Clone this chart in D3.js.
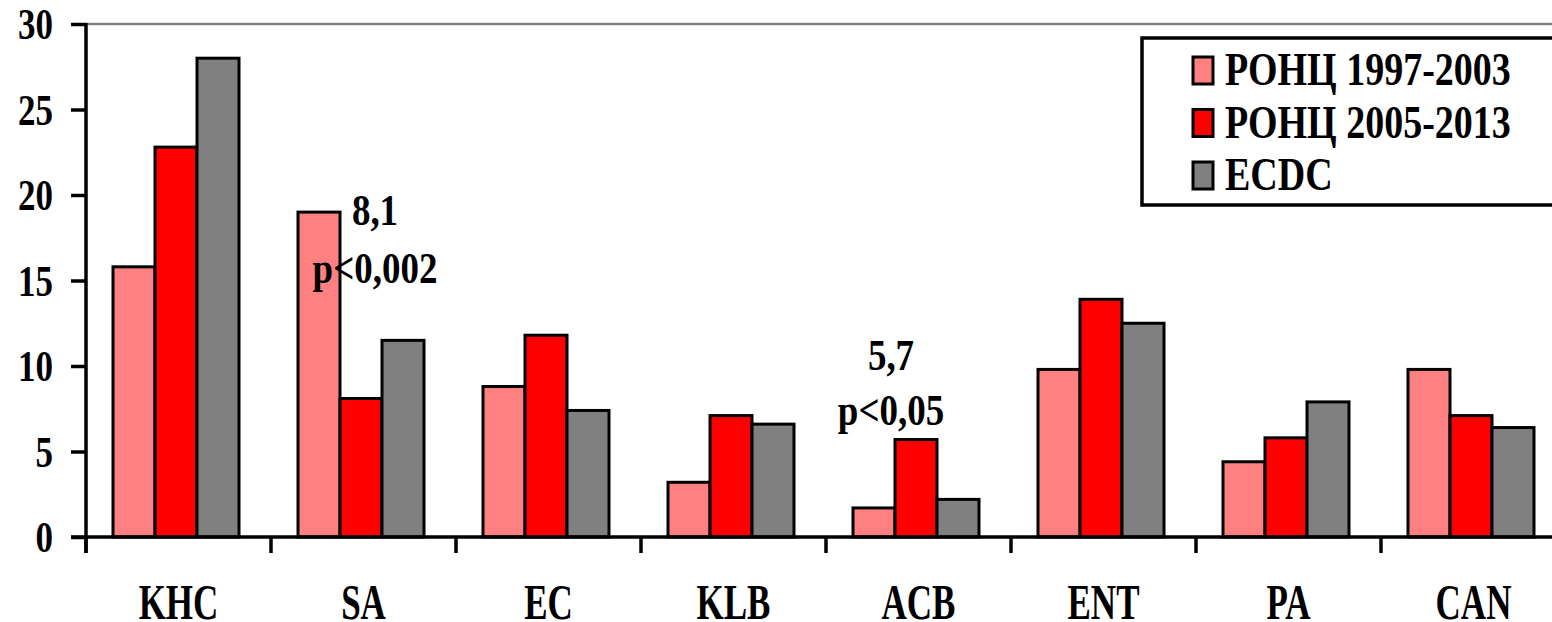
<!DOCTYPE html>
<html>
<head>
<meta charset="utf-8">
<script src="https://cdn.jsdelivr.net/npm/d3@7"></script>
<style>
html,body{margin:0;padding:0;background:#fff;overflow:hidden;}
svg{display:block;}
</style>
</head>
<body>
<svg id="chart" width="1552" height="622"></svg>
<script>
const categories = ["KHC","SA","EC","KLB","ACB","ENT","PA","CAN"];
const seriesNames = ["РОНЦ 1997-2003","РОНЦ 2005-2013","ECDC"];
const seriesColors = ["#ff8080","#ff0000","#808080"];
const rons1997 = [15.8, 19.0, 8.8, 3.2, 1.7, 9.8, 4.4, 9.8];
const rons2005 = [22.8, 8.1, 11.8, 7.1, 5.7, 13.9, 5.8, 7.1];
const ecdc     = [28.0, 11.5, 7.4, 6.6, 2.2, 12.5, 7.9, 6.4];
const yTicks = [0,5,10,15,20,25,30];
const annotations = [
  {cat:"SA", series:1, lines:["8,1","p<0,002"]},
  {cat:"ACB", series:1, lines:["5,7","p<0,05"]}
];
const seriesValues = [rons1997, rons2005, ecdc];

const svg = d3.select("#chart");
const plotLeft = 86, plotTop = 24, plotBottom = 537, band = 185;

const x0 = d3.scaleBand().domain(categories).range([plotLeft, plotLeft + band*categories.length]).padding(0);
const x1 = d3.scaleBand().domain(d3.range(seriesNames.length)).range([27, 27 + 42*3]).padding(0);
const y = d3.scaleLinear().domain([0,30]).range([plotBottom, plotTop]);

function stretchedText(g, x, yPos, str, size, sy, anchor){
  return g.append("text")
    .attr("transform", `translate(${x},${yPos}) scale(1,${sy})`)
    .attr("text-anchor", anchor)
    .style("font-family", '"Liberation Serif", "Times New Roman", serif')
    .style("font-weight", "bold")
    .style("fill", "#000")
    .style("font-size", size + "px")
    .text(str);
}

// top border line
svg.append("line").attr("x1", plotLeft).attr("x2", 1552).attr("y1", plotTop).attr("y2", plotTop)
  .attr("stroke", "#808080").attr("stroke-width", 2.5);

// bars
const groups = svg.append("g").selectAll("g").data(categories).join("g")
  .attr("transform", d => `translate(${x0(d)},0)`);
groups.selectAll("rect").data((c, ci) => seriesValues.map((vals, si) => ({si, v: vals[ci]})))
  .join("rect")
  .attr("x", d => x1(d.si))
  .attr("width", x1.bandwidth())
  .attr("y", d => y(d.v))
  .attr("height", d => y(0) - y(d.v))
  .attr("fill", d => seriesColors[d.si])
  .attr("stroke", "#000").attr("stroke-width", 3);

// Y axis
const yAxis = svg.append("g").attr("transform", `translate(${plotLeft},0)`)
  .call(d3.axisLeft(y).tickValues(yTicks).tickSize(15).tickFormat(""));
yAxis.select(".domain").remove();
yAxis.selectAll(".tick line").attr("stroke", "#000").attr("stroke-width", 3.5);
svg.append("line").attr("x1", plotLeft).attr("x2", plotLeft).attr("y1", plotTop - 1).attr("y2", plotBottom + 16)
  .attr("stroke", "#000").attr("stroke-width", 3.5);
const ylab = svg.append("g");
yTicks.forEach(t => {
  stretchedText(ylab, 53, y(t) + 15, String(t), 35, 1.25, "end");
});

// X axis
svg.append("line").attr("x1", plotLeft - 15).attr("x2", 1552).attr("y1", plotBottom).attr("y2", plotBottom)
  .attr("stroke", "#000").attr("stroke-width", 3.5);
const xTicks = svg.append("g");
categories.forEach(c => {
  const xx = x0(c);
  xTicks.append("line").attr("x1", xx).attr("x2", xx).attr("y1", plotBottom).attr("y2", plotBottom + 16)
    .attr("stroke", "#000").attr("stroke-width", 3.5);
  stretchedText(xTicks, xx + band/2, 619, c, 35, 1.43, "middle");
});

// annotations
const ann = svg.append("g");
annotations.forEach(a => {
  const si = a.series;
  const bx = x0(a.cat) + x1(si) + x1.bandwidth()/2;
  if (a.cat === "SA") {
    stretchedText(ann, bx + 14, 225, a.lines[0], 37, 1.17, "middle");
    stretchedText(ann, bx + 14, 283, a.lines[1], 37, 1.17, "middle");
  } else {
    stretchedText(ann, bx - 25, 370, a.lines[0], 37, 1.17, "middle");
    stretchedText(ann, bx - 25, 425, a.lines[1], 37, 1.17, "middle");
  }
});

// legend
const lg = svg.append("g");
lg.append("rect").attr("x", 1142).attr("y", 38).attr("width", 440).attr("height", 167)
  .attr("fill", "#fff").attr("stroke", "#000").attr("stroke-width", 3.5);
seriesNames.forEach((s, i) => {
  const ry = 57 + i*52.5;
  lg.append("rect").attr("x", 1193).attr("y", ry).attr("width", 20).attr("height", 27)
    .attr("fill", seriesColors[i]).attr("stroke", "#000").attr("stroke-width", 3);
  stretchedText(lg, 1225, ry + 28, s, 38, 1.2, "start");
});
</script>
</body>
</html>
